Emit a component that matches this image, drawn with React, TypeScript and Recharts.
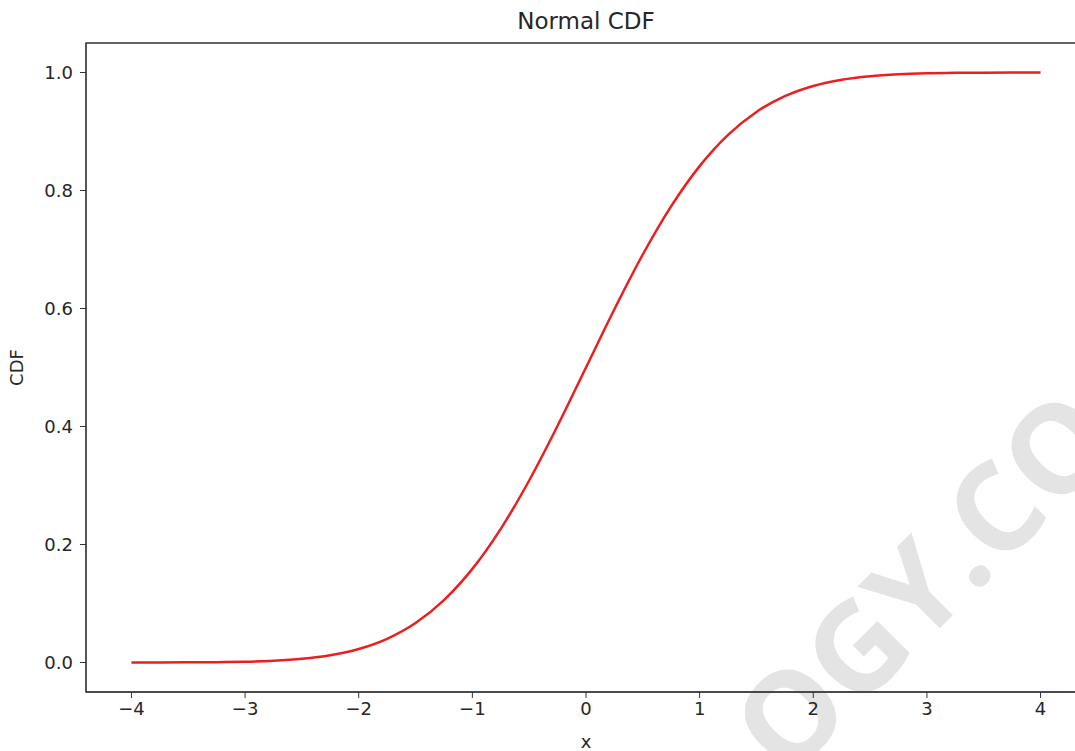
import { LineChart, Line, XAxis, YAxis, ReferenceArea } from "recharts";

// x positions and CDF values
const xValues = [
  -4, -3.75, -3.5, -3.25, -3, -2.75, -2.5, -2.25, -2, -1.75, -1.5, -1.25, -1,
  -0.75, -0.5, -0.25, 0, 0.25, 0.5, 0.75, 1, 1.25, 1.5, 1.75, 2, 2.25, 2.5,
  2.75, 3, 3.25, 3.5, 3.75, 4,
];
const cdfValues = [
  0.00003, 0.00009, 0.00023, 0.00058, 0.00135, 0.003, 0.0062, 0.0122, 0.0228,
  0.0401, 0.0668, 0.1057, 0.1587, 0.2266, 0.3085, 0.4013, 0.5, 0.5987, 0.6915,
  0.7734, 0.8413, 0.8943, 0.9332, 0.9599, 0.9772, 0.9878, 0.9938, 0.997,
  0.99865, 0.99942, 0.99977, 0.99991, 0.99997,
];
const xTicks = [-4, -3, -2, -1, 0, 1, 2, 3, 4];
const yTicks = [0, 0.2, 0.4, 0.6, 0.8, 1.0];

const data = xValues.map((x, i) => ({ x, cdf: cdfValues[i] }));

const font = "'DejaVu Sans', sans-serif";
const tickStyle = { fontSize: 18, fill: "#262626", fontFamily: font };
const fmtX = (v: number) => (v < 0 ? "\u2212" + Math.abs(v) : String(v));

export default function App() {
  return (
    <div
      style={{
        position: "absolute",
        left: 0,
        top: 0,
        width: 1075,
        height: 751,
        overflow: "hidden",
        background: "#fff",
      }}
    >
      {/* watermark behind the chart */}
      <svg
        width={1075}
        height={751}
        style={{ position: "absolute", left: 0, top: 0 }}
      >
        <text
          x={787}
          y={781}
          transform="rotate(-45 787 781)"
          fill="#e4e4e4"
          fontSize={123}
          fontWeight={700}
          fontFamily="'Open Sans', sans-serif"
        >
          OGY.CO
        </text>
      </svg>
      <div style={{ position: "absolute", left: 0, top: 0 }}>
        <LineChart
          width={1120}
          height={751}
          data={data}
          margin={{ top: 43, right: 34, left: 0, bottom: 0 }}
        >
          <XAxis
            dataKey="x"
            type="number"
            domain={[-4.4, 4.4]}
            ticks={xTicks}
            tickFormatter={fmtX}
            tick={tickStyle}
            tickSize={6}
            tickMargin={4}
            stroke="#333"
            height={59}
            label={{
              value: "x",
              position: "insideBottom",
              offset: 3,
              style: { fontSize: 18, fill: "#262626", fontFamily: font },
            }}
          />
          <YAxis
            type="number"
            domain={[-0.05, 1.05]}
            ticks={yTicks}
            tickFormatter={(v: number) => v.toFixed(1)}
            tick={tickStyle}
            tickSize={6}
            tickMargin={7}
            stroke="#333"
            width={86}
            label={{
              value: "CDF",
              angle: -90,
              position: "insideLeft",
              offset: 17,
              style: {
                fontSize: 18,
                fill: "#262626",
                fontFamily: font,
                textAnchor: "middle",
              },
            }}
          />
          <ReferenceArea
            x1={-4.4}
            x2={4.4}
            y1={-0.05}
            y2={1.05}
            fill="none"
            stroke="#333"
            strokeWidth={1.3}
          />
          <Line
            type="monotone"
            dataKey="cdf"
            stroke="#ea1f1f"
            strokeWidth={2.5}
            dot={false}
            isAnimationActive={false}
          />
          <text
            x={586}
            y={29}
            textAnchor="middle"
            fontSize={23}
            fill="#262626"
            fontFamily={font}
          >
            Normal CDF
          </text>
        </LineChart>
      </div>
    </div>
  );
}
